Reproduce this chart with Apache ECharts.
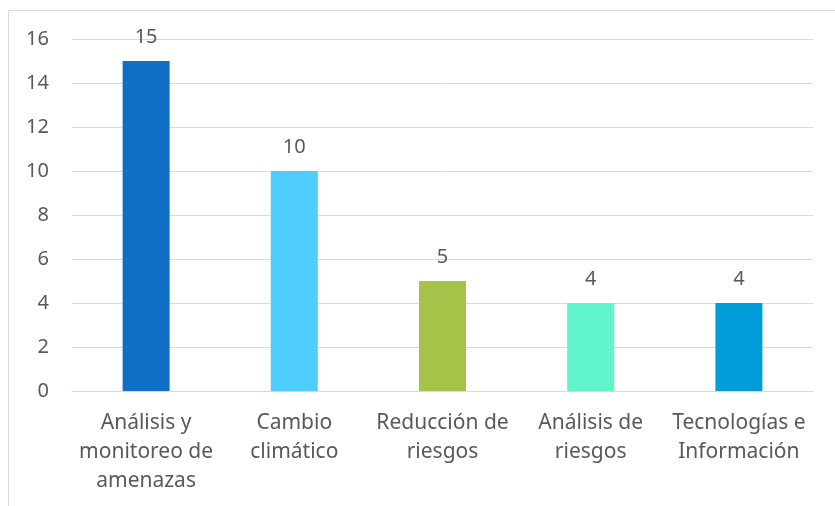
<!DOCTYPE html>
<html>
<head>
<meta charset="utf-8">
<script src="https://cdn.jsdelivr.net/npm/echarts@6/dist/echarts.min.js"></script>
<style>
html,body{margin:0;padding:0;background:#fff;}
#c{width:835px;height:506px;}
</style>
</head>
<body>
<div id="c"></div>
<script>
const categories = ["Análisis y\nmonitoreo de\namenazas", "Cambio\nclimático", "Reducción de\nriesgos", "Análisis de\nriesgos", "Tecnologías e\nInformación"];
const values = [15, 10, 5, 4, 4];
const barColors = ["#0F6FC6", "#4FCDFF", "#A5C249", "#60F5CB", "#009DD9"];
const yTicks = { min: 0, max: 16, interval: 2 };

const chart = echarts.init(document.getElementById('c'));
const font = '"Noto Sans", "Open Sans", sans-serif';
chart.setOption({
  animation: false,
  backgroundColor: '#fff',
  graphic: [{
    type: 'rect',
    shape: { x: 8.5, y: 10.5, width: 900, height: 600 },
    style: { fill: 'none', stroke: '#D9D9D9', lineWidth: 1 },
    silent: true
  }],
  grid: { left: 72, right: 22, top: 39, bottom: 115 },
  xAxis: {
    type: 'category',
    data: categories,
    axisLine: { show: true, lineStyle: { color: '#D9D9D9', width: 1 } },
    axisTick: { show: false },
    axisLabel: {
      color: '#595959', fontFamily: font, fontSize: 21, lineHeight: 29,
      margin: 18, interval: 0
    }
  },
  yAxis: {
    type: 'value',
    min: yTicks.min, max: yTicks.max, interval: yTicks.interval,
    axisLine: { show: false },
    axisTick: { show: false },
    splitLine: { lineStyle: { color: '#D9D9D9', width: 1 } },
    axisLabel: { color: '#595959', fontFamily: font, fontSize: 20, margin: 23 }
  },
  series: [{
    type: 'bar',
    barWidth: 47,
    data: values.map((v, i) => ({ value: v, itemStyle: { color: barColors[i] } })),
    label: {
      show: true, position: 'top', distance: 14,
      color: '#595959', fontFamily: font, fontSize: 20
    }
  }]
});
</script>
</body>
</html>
